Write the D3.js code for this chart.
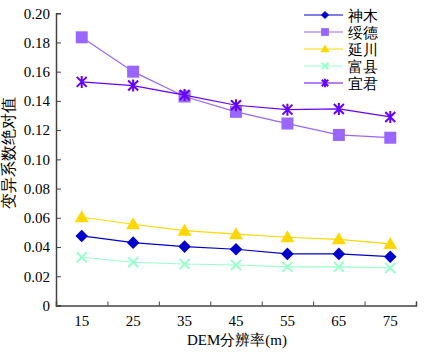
<!DOCTYPE html>
<html><head><meta charset="utf-8">
<script src="https://cdn.jsdelivr.net/npm/d3@7"></script>
<style>body{margin:0;background:#fff}svg{display:block}</style>
</head><body>
<script>
const resolutions = [15, 25, 35, 45, 55, 65, 75];
const seriesNames = ["神木", "绥德", "延川", "富县", "宜君"];
const shenmu = [0.0476, 0.0430, 0.0403, 0.0385, 0.0353, 0.0353, 0.0334];
const suide  = [0.1835, 0.1600, 0.1430, 0.1325, 0.1245, 0.1167, 0.1148];
const yanchuan = [0.0604, 0.0556, 0.0512, 0.0488, 0.0467, 0.0453, 0.0421];
const fuxian = [0.0330, 0.0296, 0.0284, 0.0277, 0.0264, 0.0264, 0.0257];
const yijun  = [0.1530, 0.1505, 0.1440, 0.1370, 0.1340, 0.1345, 0.1290];
const yTicks = ["0", "0.02", "0.04", "0.06", "0.08", "0.10", "0.12", "0.14", "0.16", "0.18", "0.20"];
const xTickLabels = ["15", "25", "35", "45", "55", "65", "75"];

const series = [
  {name: seriesNames[0], values: shenmu, color: "#0000CC", marker: "diamond"},
  {name: seriesNames[1], values: suide, color: "#9966FF", marker: "square"},
  {name: seriesNames[2], values: yanchuan, color: "#FFD700", marker: "triangle"},
  {name: seriesNames[3], values: fuxian, color: "#99FFCC", marker: "cross"},
  {name: seriesNames[4], values: yijun, color: "#6600FF", marker: "asterisk"}
];

const W = 425, H = 352;
const svg = d3.select("body").append("svg").attr("width", W).attr("height", H);
const x = d3.scaleLinear().domain([10, 80]).range([56, 416]);
const y = d3.scaleLinear().domain([0, 0.2]).range([305.5, 13.2]);
const serif = "'Liberation Serif','Times New Roman',serif";

// axes
const xAxis = d3.axisBottom(x).tickValues([20,30,40,50,60,70,80]).tickSize(-4).tickFormat("");
const gx = svg.append("g").attr("transform", `translate(0,${y(0)})`).call(xAxis);
gx.select(".domain").attr("stroke", "#444").attr("stroke-width", 1.5);
gx.selectAll(".tick line").attr("stroke", "#444");

const yAxis = d3.axisLeft(y).tickValues(yTicks.map(Number)).tickSize(-5).tickFormat((d,i) => yTicks[i]).tickPadding(6);
const gy = svg.append("g").attr("transform", `translate(${x(10)},0)`).call(yAxis);
gy.select(".domain").attr("stroke", "#444").attr("stroke-width", 1.5);
gy.selectAll(".tick line").attr("stroke", "#444");
gy.selectAll(".tick text").attr("font-family", serif).attr("font-size", 15).attr("fill", "#000").attr("x", -6);

// x tick labels at data positions
svg.append("g").selectAll("text").data(resolutions).join("text")
  .attr("x", d => x(d)).attr("y", y(0) + 20)
  .attr("text-anchor", "middle").attr("font-family", serif).attr("font-size", 15)
  .text((d,i) => xTickLabels[i]);

// axis titles
svg.append("text").attr("x", 237).attr("y", 345).attr("text-anchor", "middle")
  .attr("font-family", serif).attr("font-size", 15).text("DEM分辨率(m)");
svg.append("text").attr("transform", "translate(14,153) rotate(-90)").attr("text-anchor", "middle")
  .attr("font-family", serif).attr("font-size", 15.5).text("变异系数绝对值");

function drawMarker(g, type, color, cx, cy, k) {
  if (type === "diamond") {
    const r = 6.3 * k;
    g.append("path").attr("d", `M${cx},${cy-r}L${cx+r},${cy}L${cx},${cy+r}L${cx-r},${cy}Z`).attr("fill", color);
  } else if (type === "square") {
    const r = 6 * k;
    g.append("rect").attr("x", cx-r).attr("y", cy-r).attr("width", 2*r).attr("height", 2*r).attr("fill", color);
  } else if (type === "triangle") {
    const r = 7 * k;
    g.append("path").attr("d", `M${cx},${cy-r}L${cx+r},${cy+r*0.72}L${cx-r},${cy+r*0.72}Z`).attr("fill", color);
  } else if (type === "cross") {
    const r = 5 * k;
    g.append("path").attr("d", `M${cx-r},${cy-r}L${cx+r},${cy+r}M${cx-r},${cy+r}L${cx+r},${cy-r}`).attr("stroke", color).attr("stroke-width", 2);
  } else if (type === "asterisk") {
    const r = 5 * k;
    g.append("path").attr("d", `M${cx-r},${cy-r}L${cx+r},${cy+r}M${cx-r},${cy+r}L${cx+r},${cy-r}M${cx},${cy-r-1}L${cx},${cy+r+1}`).attr("stroke", color).attr("stroke-width", 2);
  }
}

const line = d3.line().x((d,i) => x(resolutions[i])).y(d => y(d));
series.forEach(s => {
  const g = svg.append("g");
  g.append("path").attr("d", line(s.values)).attr("fill", "none").attr("stroke", s.color).attr("stroke-width", 1.2);
  s.values.forEach((v,i) => drawMarker(g, s.marker, s.color, x(resolutions[i]), y(v), 1));
});

// legend
const lg = svg.append("g");
series.forEach((s,i) => {
  const ly = 15 + i * 17;
  lg.append("line").attr("x1", 304).attr("x2", 343).attr("y1", ly).attr("y2", ly).attr("stroke", s.color).attr("stroke-width", 1.2);
  drawMarker(lg, s.marker, s.color, 325, ly, 0.65);
  lg.append("text").attr("x", 348).attr("y", ly + 5.5).attr("font-family", serif).attr("font-size", 15).text(s.name);
});
</script>
</body></html>
